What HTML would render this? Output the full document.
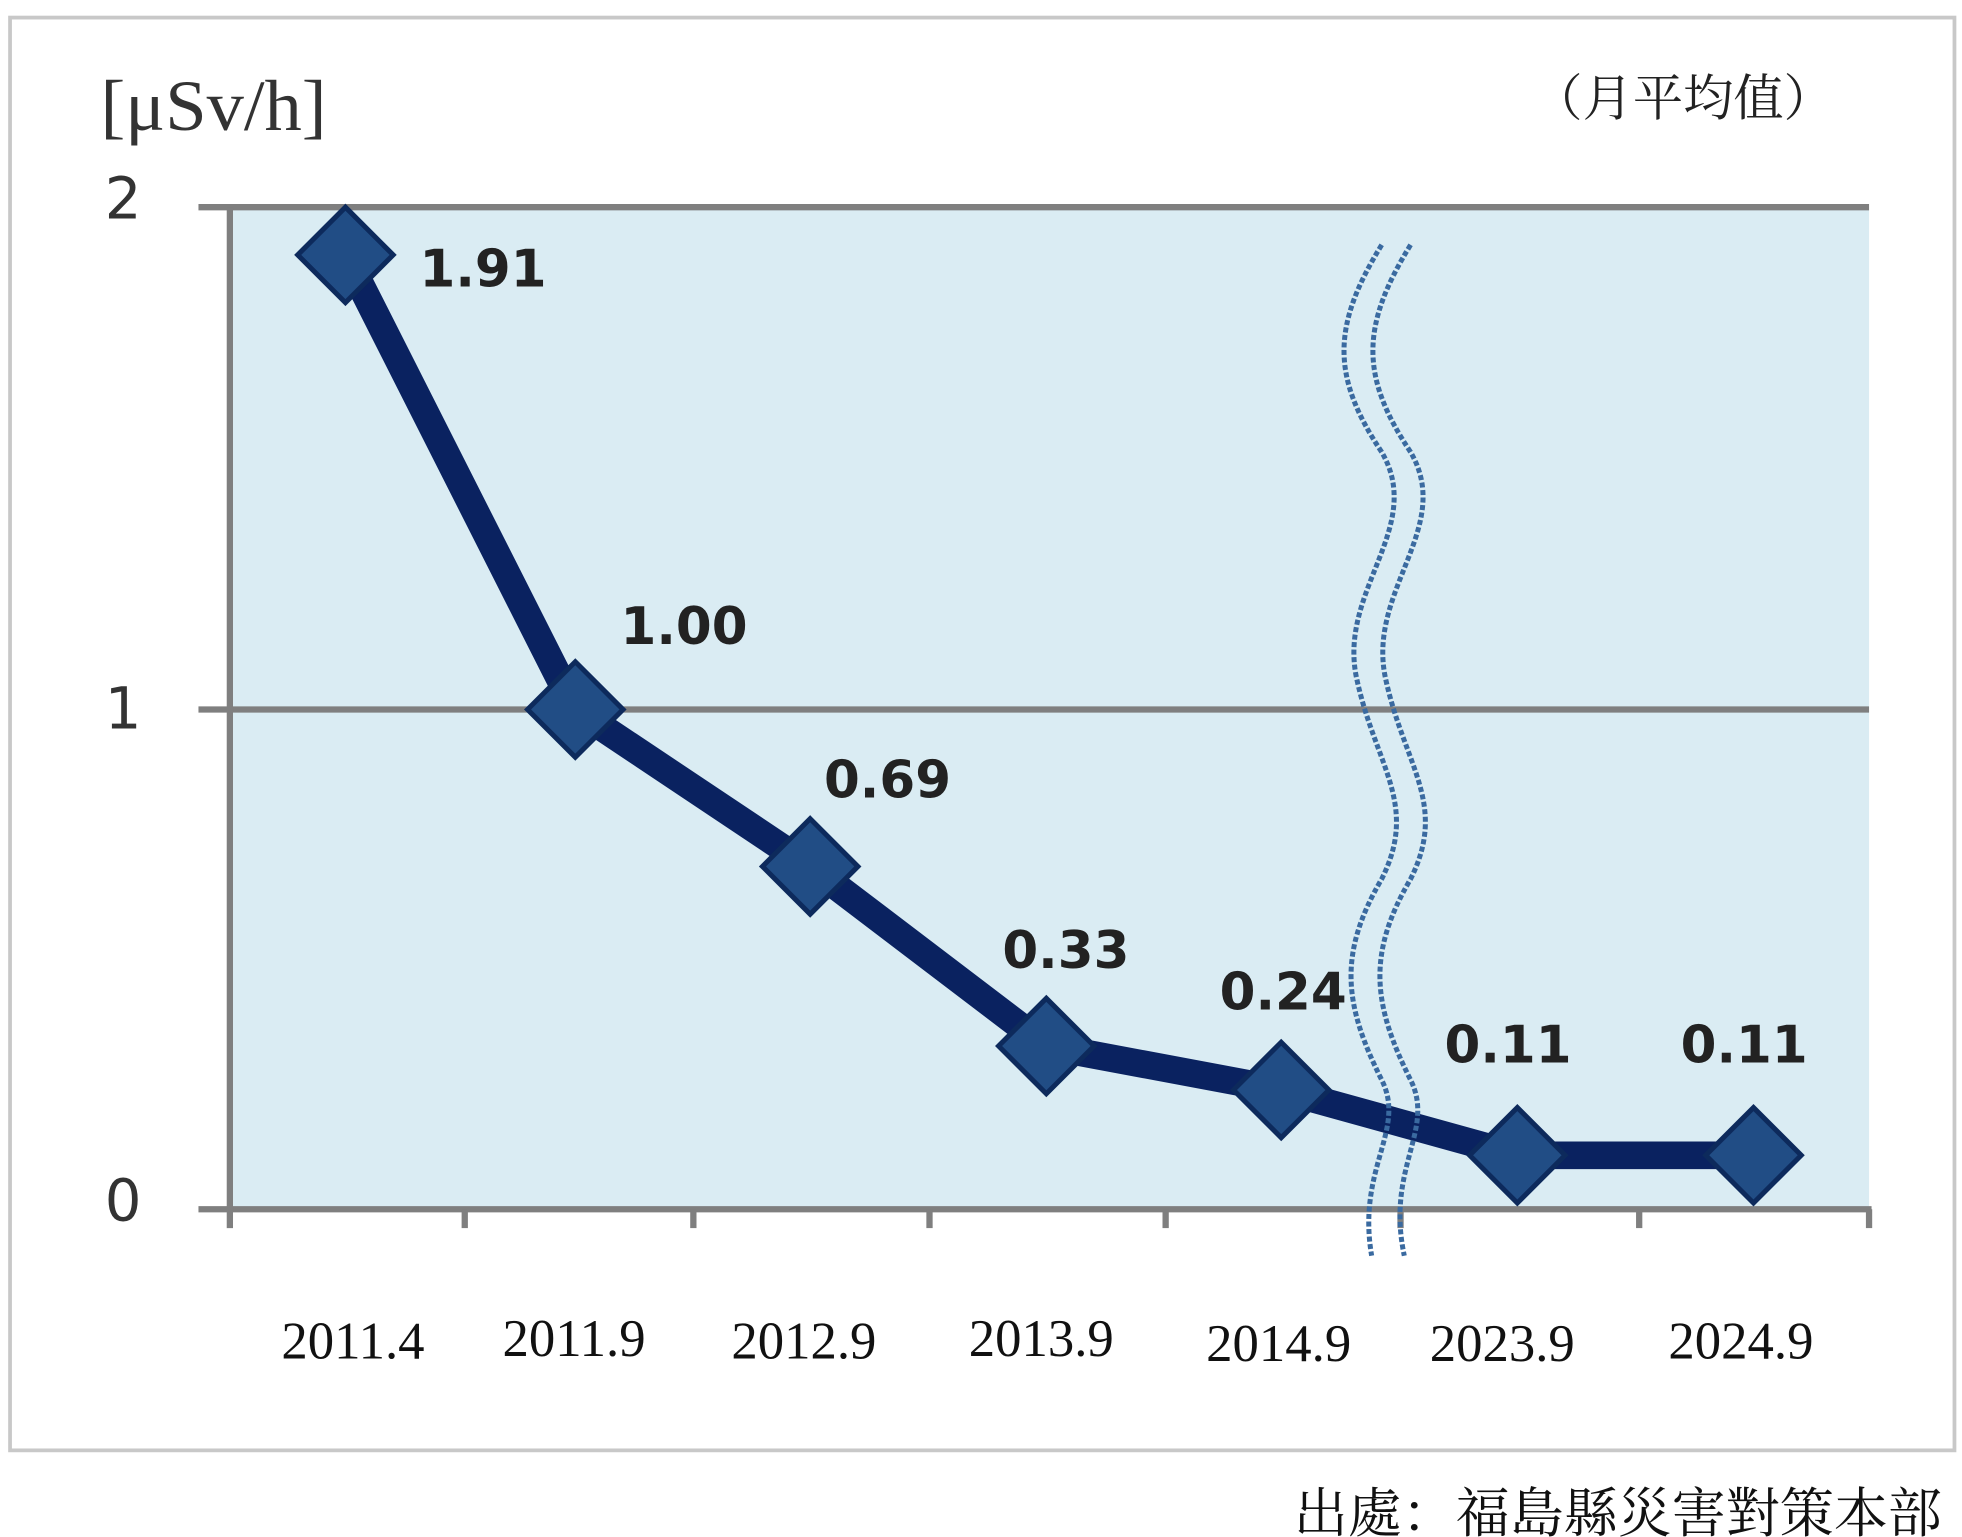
<!DOCTYPE html>
<html><head><meta charset="utf-8"><style>
html,body{margin:0;padding:0;background:#fff;}
svg{display:block;}
</style></head><body>
<svg width="1962" height="1537" viewBox="0 0 1562 1224" preserveAspectRatio="none" xmlns="http://www.w3.org/2000/svg">
<rect x="0" y="0" width="1562" height="1224" fill="#fff"/>
<rect x="8" y="14" width="1548" height="1141" fill="#fff" stroke="#c8c8c8" stroke-width="3"/>
<rect x="183" y="165" width="1305" height="798" fill="#daecf3"/>
<g stroke="#7f7f7f" stroke-width="5">
<line x1="158" y1="165" x2="1488" y2="165"/>
<line x1="158" y1="565" x2="1488" y2="565"/>
<line x1="158" y1="963" x2="1490" y2="963"/>
<line x1="183" y1="165" x2="183" y2="978"/>
<line x1="370" y1="963" x2="370" y2="978"/>
<line x1="552" y1="963" x2="552" y2="978"/>
<line x1="740" y1="963" x2="740" y2="978"/>
<line x1="928" y1="963" x2="928" y2="978"/>
<line x1="1115" y1="963" x2="1115" y2="978"/>
<line x1="1305" y1="963" x2="1305" y2="978"/>
<line x1="1488" y1="963" x2="1488" y2="978"/>
</g>
<polyline points="275,203 458,565 645,690 833,833 1020,868 1208,920 1396,920" fill="none" stroke="#0a2260" stroke-width="22" stroke-linejoin="round"/>
<g fill="#214d85" stroke="#0d2a5c" stroke-width="4">
<polygon points="275,165 313,203 275,241 237,203"/>
<polygon points="458,527 496,565 458,603 420,565"/>
<polygon points="645,652 683,690 645,728 607,690"/>
<polygon points="833,795 871,833 833,871 795,833"/>
<polygon points="1020,830 1058,868 1020,906 982,868"/>
<polygon points="1208,882 1246,920 1208,958 1170,920"/>
<polygon points="1396,882 1434,920 1396,958 1358,920"/>
</g>
<g fill="none" stroke="#3a6aa0" stroke-width="4" stroke-dasharray="4,2">
<path d="M1100,195 C1060,260 1060,300 1100,360 C1135,420 1065,470 1080,540 C1095,610 1130,640 1100,700 C1065,760 1070,800 1100,860 C1120,900 1080,930 1092,1000"/>
<path d="M1123,195 C1083,260 1083,300 1123,360 C1158,420 1088,470 1103,540 C1118,610 1153,640 1123,700 C1088,760 1093,800 1123,860 C1143,900 1103,930 1118,1000"/>
</g>
<g font-family="DejaVu Sans, sans-serif" font-weight="bold" font-size="41" fill="#222">
<text x="334" y="228">1.91</text>
<text x="494" y="513">1.00</text>
<text x="656" y="635">0.69</text>
<text x="798" y="771">0.33</text>
<text x="971" y="804">0.24</text>
<text x="1150" y="846">0.11</text>
<text x="1338" y="846">0.11</text>
</g>
<g font-family="DejaVu Sans, sans-serif" font-size="46" fill="#333" text-anchor="middle">
<text x="98" y="174">2</text>
<text x="98" y="580">1</text>
<text x="98" y="972">0</text>
</g>
<text x="80" y="103" font-family="Liberation Serif, serif" font-size="48" fill="#333" textLength="180" lengthAdjust="spacingAndGlyphs" transform="translate(0,-20) scale(1,1.2)">[μSv/h]</text>
<text x="1220" y="92" font-family="Liberation Serif, 'Noto Serif CJK SC', serif" font-size="40" fill="#222">（月平均值）</text>
<g font-family="Liberation Serif, serif" font-size="42" fill="#111" text-anchor="middle">
<text x="281" y="1082">2011.4</text>
<text x="457" y="1080">2011.9</text>
<text x="640" y="1082">2012.9</text>
<text x="829" y="1080">2013.9</text>
<text x="1018" y="1084">2014.9</text>
<text x="1196" y="1084">2023.9</text>
<text x="1386" y="1082">2024.9</text>
</g>
<text x="1030" y="1220" font-family="Liberation Serif, 'Noto Serif CJK SC', serif" font-size="43" fill="#111">出處：福島縣災害對策本部</text>
</svg>
</body></html>
